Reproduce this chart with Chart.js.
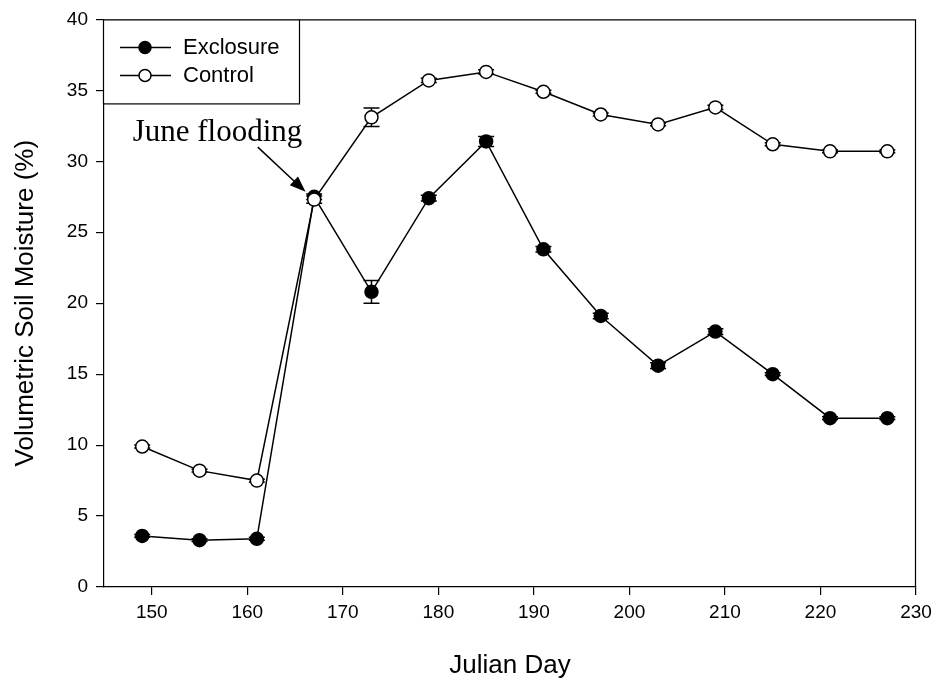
<!DOCTYPE html>
<html>
<head>
<meta charset="utf-8">
<script src="https://cdn.jsdelivr.net/npm/chart.js@4.4.0/dist/chart.umd.min.js"></script>
<style>
  html, body { margin: 0; padding: 0; background: #fff; }
  #wrap { width: 940px; height: 684px; }
</style>
</head>
<body>
<div id="wrap"><canvas id="soilChart" width="940" height="684"></canvas></div>
<script>
// julian day of each sampling
const days = [149, 155, 161, 167, 173, 179, 185, 191, 197, 203, 209, 215, 221, 227];

// volumetric soil moisture (%) and standard errors
const exclosure = [3.6, 3.3, 3.4, 27.5, 20.8, 27.4, 31.4, 23.8, 19.1, 15.6, 18.0, 15.0, 11.9, 11.9];
const exclosureErr = [0.1, 0.1, 0.1, 0.2, 0.8, 0.2, 0.35, 0.2, 0.2, 0.2, 0.2, 0.1, 0.1, 0.1];
const control = [9.9, 8.2, 7.5, 27.3, 33.1, 35.7, 36.3, 34.9, 33.3, 32.6, 33.8, 31.2, 30.7, 30.7];
const controlErr = [0.1, 0.1, 0.1, 0.25, 0.65, 0.15, 0.15, 0.1, 0.1, 0.1, 0.15, 0.1, 0.1, 0.1];

const xTicks = [150, 160, 170, 180, 190, 200, 210, 220, 230];
const yTicks = [0, 5, 10, 15, 20, 25, 30, 35, 40];

const sans = "'Liberation Sans', Arial, sans-serif";
const serif = "'Liberation Serif', 'Times New Roman', serif";

// vertical error bars, drawn under the lines and markers
const errorBars = {
  id: 'errorBars',
  beforeDatasetsDraw(chart) {
    const ctx = chart.ctx;
    const xs = chart.scales.x, ys = chart.scales.y;
    ctx.save();
    ctx.strokeStyle = '#000';
    ctx.lineWidth = 1.5;
    chart.data.datasets.forEach(ds => {
      ds.data.forEach((p, i) => {
        const e = ds.errors[i];
        const x = xs.getPixelForValue(p.x);
        const y1 = ys.getPixelForValue(p.y + e);
        const y2 = ys.getPixelForValue(p.y - e);
        ctx.beginPath();
        ctx.moveTo(x, y1); ctx.lineTo(x, y2);
        ctx.moveTo(x - 8, y1); ctx.lineTo(x + 8, y1);
        ctx.moveTo(x - 8, y2); ctx.lineTo(x + 8, y2);
        ctx.stroke();
      });
    });
    ctx.restore();
  }
};

// closes the plot box on the top and right sides
const frame = {
  id: 'frame',
  afterDraw(chart) {
    const {left, right, top, bottom} = chart.chartArea;
    const ctx = chart.ctx;
    ctx.save();
    ctx.strokeStyle = '#000';
    ctx.lineWidth = 1.2;
    ctx.beginPath();
    ctx.moveTo(left, top + 0.5);
    ctx.lineTo(right - 0.5, top + 0.5);
    ctx.lineTo(right - 0.5, bottom);
    ctx.stroke();
    ctx.restore();
  }
};

// boxed legend in the upper left corner
const boxLegend = {
  id: 'boxLegend',
  afterDraw(chart) {
    const ctx = chart.ctx;
    const {left, top} = chart.chartArea;
    ctx.save();
    ctx.fillStyle = '#fff';
    ctx.fillRect(left, top, 196, 84);
    ctx.strokeStyle = '#000';
    ctx.lineWidth = 1.2;
    ctx.strokeRect(left - 0.5, top + 0.5, 196, 84);
    ctx.font = '22px ' + sans;
    ctx.textBaseline = 'middle';
    chart.data.datasets.forEach((ds, i) => {
      const y = top + 28 + i * 28;
      ctx.beginPath();
      ctx.moveTo(left + 16, y); ctx.lineTo(left + 67, y);
      ctx.lineWidth = 1.5;
      ctx.stroke();
      ctx.beginPath();
      ctx.arc(left + 41, y, 6, 0, Math.PI * 2);
      ctx.fillStyle = ds.pointBackgroundColor;
      ctx.fill();
      ctx.stroke();
      ctx.fillStyle = '#000';
      ctx.fillText(ds.label, left + 79, y + 1);
    });
    ctx.restore();
  }
};

// "June flooding" note with arrow to the day 167 sample
const floodNote = {
  id: 'floodNote',
  afterDraw(chart) {
    const ctx = chart.ctx;
    const xs = chart.scales.x, ys = chart.scales.y;
    ctx.save();
    ctx.fillStyle = '#000';
    ctx.font = '31px ' + serif;
    ctx.textBaseline = 'alphabetic';
    ctx.fillText('June flooding', xs.getPixelForValue(148.0), ys.getPixelForValue(31.45));
    const x0 = xs.getPixelForValue(161.1), y0 = ys.getPixelForValue(31.0);
    const x1 = xs.getPixelForValue(166.1), y1 = ys.getPixelForValue(27.85);
    const a = Math.atan2(y1 - y0, x1 - x0);
    ctx.strokeStyle = '#000';
    ctx.lineWidth = 1.5;
    ctx.beginPath();
    ctx.moveTo(x0, y0);
    ctx.lineTo(x1 - 10 * Math.cos(a), y1 - 10 * Math.sin(a));
    ctx.stroke();
    ctx.beginPath();
    ctx.moveTo(x1, y1);
    ctx.lineTo(x1 - 16 * Math.cos(a) + 6 * Math.sin(a), y1 - 16 * Math.sin(a) - 6 * Math.cos(a));
    ctx.lineTo(x1 - 16 * Math.cos(a) - 6 * Math.sin(a), y1 - 16 * Math.sin(a) + 6 * Math.cos(a));
    ctx.closePath();
    ctx.fill();
    ctx.restore();
  }
};

const toPoints = vals => vals.map((v, i) => ({x: days[i], y: v}));

new Chart('soilChart', {
  type: 'line',
  data: {
    datasets: [{
      label: 'Exclosure',
      data: toPoints(exclosure),
      errors: exclosureErr,
      borderColor: '#000',
      borderWidth: 1.5,
      pointRadius: 6.5,
      pointBorderWidth: 1.5,
      pointBorderColor: '#000',
      pointBackgroundColor: '#000',
      order: 1
    }, {
      label: 'Control',
      data: toPoints(control),
      errors: controlErr,
      borderColor: '#000',
      borderWidth: 1.5,
      pointRadius: 6.5,
      pointBorderWidth: 1.5,
      pointBorderColor: '#000',
      pointBackgroundColor: '#fff',
      order: 0
    }]
  },
  options: {
    responsive: false,
    animation: false,
    devicePixelRatio: 1,
    layout: { padding: { top: 16, right: 24, left: 0, bottom: 0 } },
    plugins: { legend: { display: false }, tooltip: { enabled: false } },
    scales: {
      x: {
        type: 'linear',
        min: 145,
        max: 230,
        afterBuildTicks: s => { s.ticks = xTicks.map(v => ({value: v})); },
        afterFit: s => { s.height = 97; },
        border: { color: '#000', width: 1.2 },
        grid: { drawOnChartArea: false, color: '#000', tickLength: 8, lineWidth: 1.2 },
        ticks: { color: '#000', font: { family: sans, size: 19 }, padding: 6, maxRotation: 0 },
        title: { display: true, text: 'Julian Day', color: '#000', font: { family: sans, size: 26 }, padding: { bottom: 3 } }
      },
      y: {
        min: 0,
        max: 40,
        afterBuildTicks: s => { s.ticks = yTicks.map(v => ({value: v})); },
        afterFit: s => { s.width = 104; },
        border: { color: '#000', width: 1.2 },
        grid: { drawOnChartArea: false, color: '#000', tickLength: 8, lineWidth: 1.2 },
        ticks: { color: '#000', font: { family: sans, size: 19 }, padding: 8 },
        title: { display: true, text: 'Volumetric Soil Moisture (%)', color: '#000', font: { family: sans, size: 26 }, padding: { top: 10 } }
      }
    }
  },
  plugins: [errorBars, frame, boxLegend, floodNote]
});
</script>
</body>
</html>
